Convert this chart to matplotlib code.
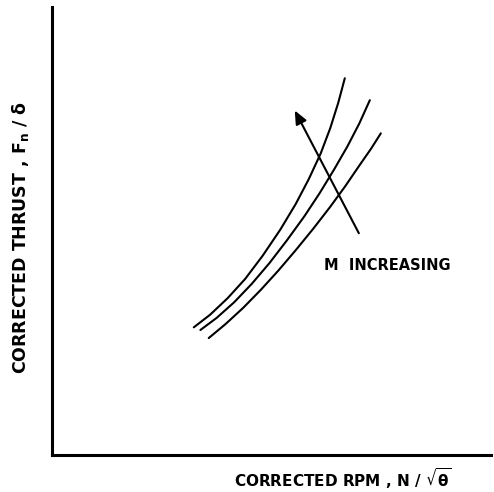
import matplotlib
matplotlib.use("Agg")
import matplotlib.pyplot as plt

plt.rcParams['font.family'] = ['DejaVu Sans']
plt.rcParams['font.weight'] = 'bold'
plt.rcParams['mathtext.fontset'] = 'dejavusans'
plt.rcParams['mathtext.default'] = 'bf'

# thrust vs rpm lines for three flight Mach numbers (arbitrary units)
rpm_low = [32.3, 36.0, 40.0, 44.0, 48.0, 52.0, 55.5, 58.5, 61.2, 63.4, 65.2, 66.7]
thrust_low = [28.5, 31.3, 35.0, 39.3, 44.5, 50.3, 56.0, 61.6, 67.3, 73.0, 78.6, 84.1]

rpm_mid = [33.8, 37.5, 41.5, 45.5, 49.5, 53.5, 57.5, 61.0, 64.3, 67.3, 70.0, 72.4]
thrust_mid = [27.9, 30.6, 34.1, 38.2, 42.8, 47.9, 53.3, 58.5, 63.8, 68.9, 74.0, 79.2]

rpm_high = [35.7, 39.5, 43.5, 47.5, 51.5, 55.5, 59.5, 63.3, 66.8, 70.0, 72.7, 74.9]
thrust_high = [26.1, 29.2, 32.8, 36.8, 41.1, 45.7, 50.5, 55.3, 60.0, 64.6, 68.4, 71.8]

arrow_tail = (69.9, 49.5)
arrow_head = (55.3, 76.9)

fig = plt.figure(figsize=(4.94, 4.92), dpi=100)
ax = fig.add_axes([52 / 494, 37 / 492, 439 / 494, 448 / 492])

for xs, ys in [(rpm_low, thrust_low), (rpm_mid, thrust_mid), (rpm_high, thrust_high)]:
    ax.plot(xs, ys, color='black', linewidth=1.5, solid_capstyle='round',
            solid_joinstyle='round')

ax.annotate('', xy=arrow_head, xytext=arrow_tail,
            arrowprops=dict(arrowstyle='-|>,head_length=0.8,head_width=0.35',
                            color='black', lw=1.5, shrinkA=0, shrinkB=0))
ax.text(61.9, 42.4, 'M  INCREASING', fontsize=10.5, fontweight='bold',
        ha='left', va='center')

ax.set_xlim(0, 100)
ax.set_ylim(0, 100)
ax.set_xticks([])
ax.set_yticks([])
for side in ['top', 'right']:
    ax.spines[side].set_visible(False)
for side in ['left', 'bottom']:
    ax.spines[side].set_linewidth(2.2)

fig.text(343 / 494, 1 - 479 / 492, r'CORRECTED RPM , N / $\sqrt{\theta}$',
         fontsize=11, fontweight='bold', ha='center', va='center')
fig.text(21 / 494, 1 - 238 / 492, r'CORRECTED THRUST , F$_\mathrm{n}$ / $\delta$',
         fontsize=12.5, fontweight='bold', ha='center', va='center', rotation=90)

fig.savefig('out.png', dpi=100)
